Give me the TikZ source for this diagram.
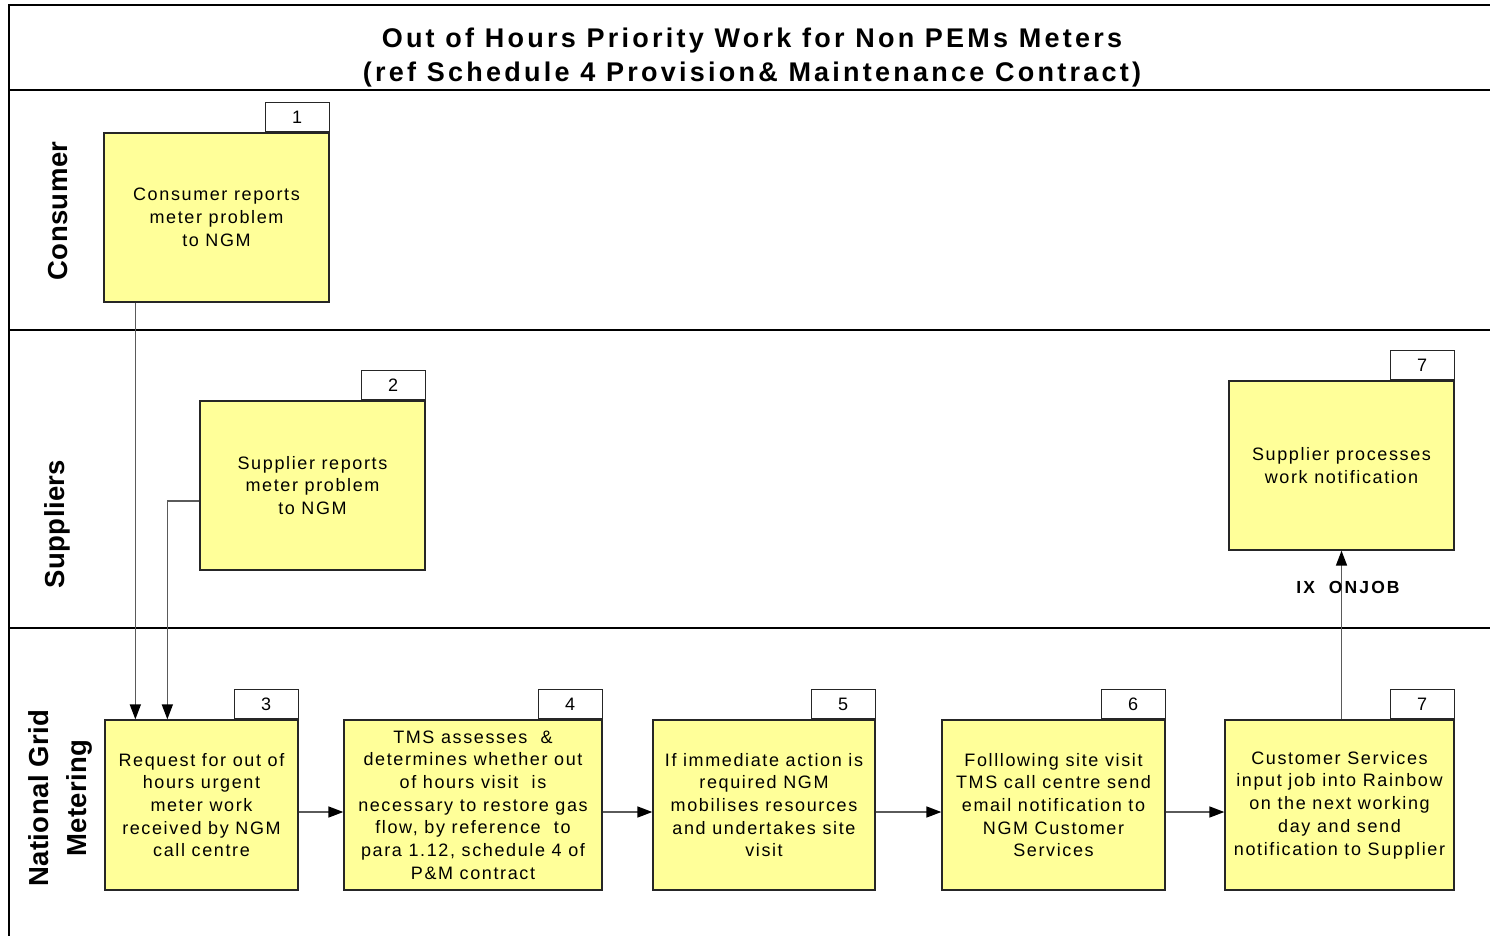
\documentclass[tikz,border=0pt]{standalone}
\usepackage{fontspec}
\setmainfont{Liberation Sans}
\newfontfamily\boxfont{Liberation Sans}[LetterSpace=9]
\newfontfamily\titlefont{Liberation Sans}[LetterSpace=12]
\newfontfamily\lanefont{Liberation Sans}[LetterSpace=1.5]
\newfontfamily\lblfont{Liberation Sans}[LetterSpace=12]
\usetikzlibrary{arrows.meta}
\definecolor{boxyellow}{HTML}{FFFF99}
\definecolor{linegray}{HTML}{5A5A5A}
\begin{document}
\begin{tikzpicture}[x=1pt,y=-1pt,
 procbox/.style={draw=black!85, line width=1.3pt, fill=boxyellow, align=center, inner sep=2pt,
   font=\boxfont\fontsize{18}{22.7}\selectfont},
 tagbox/.style={draw=black!85, line width=1.1pt, fill=white, minimum width=64pt, minimum height=29pt,
   inner sep=0pt, font=\fontsize{18}{20}\selectfont, anchor=south east},
 flow/.style={draw=linegray, line width=1.5pt, -{Triangle[length=15pt,width=11pt,fill=black,color=black]}},
 lane/.style={rotate=90, align=center, font=\lanefont\bfseries\fontsize{27.5}{38}\selectfont},
 frame/.style={draw=black, line width=1.4pt}]
\useasboundingbox (0,0) rectangle (1490,936);
% frame and lanes
\draw[frame] (9,936) -- (9,5) -- (1490,5);
\draw[frame] (9,90) -- (1490,90);
\draw[frame] (9,330) -- (1490,330);
\draw[frame] (9,628) -- (1490,628);
% title
\node[align=center, font=\titlefont\bfseries\fontsize{27}{34}\selectfont] (title) at (752,58)
 {Out of Hours Priority Work for Non PEMs Meters\\(ref Schedule 4 Provision\& Maintenance Contract)};
% lane labels
\node[lane] (lc) at (58,211) {Consumer};
\node[lane] (ls) at (57,524) {Suppliers};
\node[lane] (ln) at (60,798) {National Grid\\Metering};
% boxes
\node[procbox, minimum width=225pt, minimum height=169pt] (b1) at (216.5,217.5)
 {Consumer reports\\meter problem\\to NGM};
\node[tagbox] (t1) at (b1.north east) {1};
\node[procbox, minimum width=225pt, minimum height=169pt] (b2) at (312.5,485.5)
 {Supplier reports\\meter problem\\to NGM};
\node[tagbox] (t2) at (b2.north east) {2};
\node[procbox, minimum width=225pt, minimum height=169pt] (b8) at (1341.5,465.5)
 {Supplier processes\\work notification};
\node[tagbox] (t8) at (b8.north east) {7};
\node[procbox, minimum width=193pt, minimum height=170pt] (b3) at (201.5,805)
 {Request for out of\\hours urgent\\meter work\\received by NGM\\call centre};
\node[tagbox] (t3) at (b3.north east) {3};
\node[procbox, minimum width=258pt, minimum height=170pt] (b4) at (473,805)
 {TMS assesses\ \ \&\\determines whether out\\of hours visit\ \ is\\necessary to restore gas\\flow, by reference\ \ to\\para 1.12, schedule 4 of\\P\&M contract};
\node[tagbox] (t4) at (b4.north east) {4};
\node[procbox, minimum width=222pt, minimum height=170pt] (b5) at (764,805)
 {If immediate action is\\required NGM\\mobilises resources\\and undertakes site\\visit};
\node[tagbox] (t5) at (b5.north east) {5};
\node[procbox, minimum width=223pt, minimum height=170pt] (b6) at (1053.5,805)
 {Folllowing site visit\\TMS call centre send\\email notification to\\NGM Customer\\Services};
\node[tagbox] (t6) at (b6.north east) {6};
\node[procbox, minimum width=229pt, minimum height=170pt] (b7) at (1339.5,805)
 {Customer Services\\input job into Rainbow\\on the next working\\day and send\\notification to Supplier};
\node[tagbox] (t7) at (b7.north east) {7};
% connectors
\draw[flow] ([xshift=32pt]b1.south west) -- ([xshift=31pt]b3.north west);
\draw[flow] ([yshift=-15.5pt]b2.west) -| ([xshift=63pt]b3.north west);
\draw[flow] ([yshift=-7pt]b3.east) -- ([yshift=-7pt]b4.west);
\draw[flow] ([yshift=-7pt]b4.east) -- ([yshift=-7pt]b5.west);
\draw[flow] ([yshift=-7pt]b5.east) -- ([yshift=-7pt]b6.west);
\draw[flow] ([yshift=-7pt]b6.east) -- ([yshift=-7pt]b7.west);
\draw[flow] (b8.south |- b7.north) -- (b8.south);
\node[font=\lblfont\bfseries\fontsize{17.5}{20}\selectfont] (lbl) at (1348,587) {IX\ \ ONJOB};
\end{tikzpicture}
\end{document}
